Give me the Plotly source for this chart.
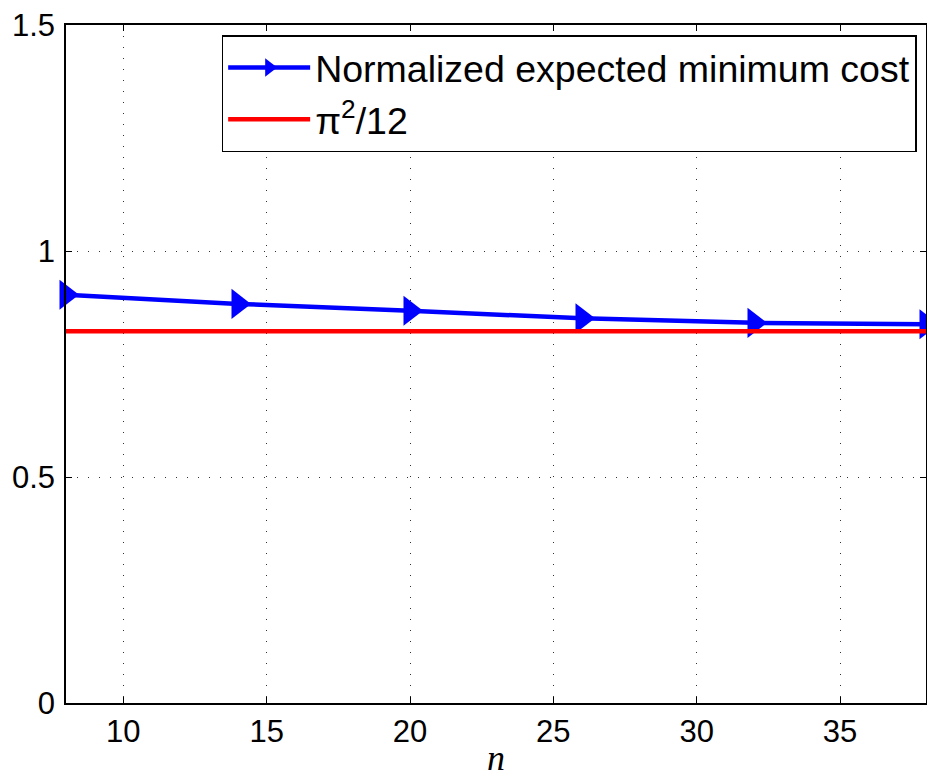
import plotly.graph_objects as go
import math

n_values = [8, 14, 20, 26, 32, 38]
cost_values = [0.903, 0.883, 0.868, 0.851, 0.841, 0.838]
ref_value = math.pi ** 2 / 12
x_ticks = [10, 15, 20, 25, 30, 35]
y_ticks = [0, 0.5, 1, 1.5]
y_tick_labels = ["0", "0.5", "1", "1.5"]

fig = go.Figure()
fig.add_trace(go.Scatter(
    x=n_values, y=cost_values, mode="lines+markers",
    name="Normalized expected minimum cost",
    line=dict(color="#0000ff", width=4.5),
    marker=dict(symbol="triangle-right", size=26, color="#0000ff"),
    cliponaxis=False,
))
fig.add_trace(go.Scatter(
    x=[n_values[0], n_values[-1]], y=[ref_value, ref_value], mode="lines",
    name="π<sup>2</sup>/12",
    line=dict(color="#ff0000", width=4.5),
))

axis_common = dict(
    showline=True, linecolor="black", linewidth=1.5, mirror="ticks",
    ticks="inside", ticklen=6, tickcolor="black",
    showgrid=True, gridcolor="#333333", griddash="1px,10px", gridwidth=1,
    zeroline=False, automargin=False, ticklabeloverflow="allow",
    tickfont=dict(family="Liberation Sans, Arial, sans-serif", size=31, color="black"),
)

fig.update_xaxes(range=[8, 38], tickvals=x_ticks, **axis_common)
fig.update_yaxes(range=[0, 1.5], tickvals=y_ticks, ticktext=y_tick_labels,
                 ticklabelstandoff=3, **axis_common)

fig.add_annotation(
    text="<i>n</i>", xref="paper", yref="paper", x=0.5, y=0,
    xanchor="center", yanchor="middle", yshift=-55, showarrow=False,
    font=dict(family="Liberation Serif, Times New Roman, serif", size=36, color="black"),
)

fig.update_layout(
    width=935, height=778,
    margin=dict(l=58, r=17, t=17, b=83),
    plot_bgcolor="white", paper_bgcolor="white",
    showlegend=True,
    legend=dict(
        x=0.181, y=0.985, xanchor="left", yanchor="top",
        bgcolor="white", bordercolor="black", borderwidth=1.5,
        font=dict(family="Liberation Sans, Arial, sans-serif", size=37.5, color="black"),
        itemwidth=82,
    ),
)

fig.write_html("out.html")
